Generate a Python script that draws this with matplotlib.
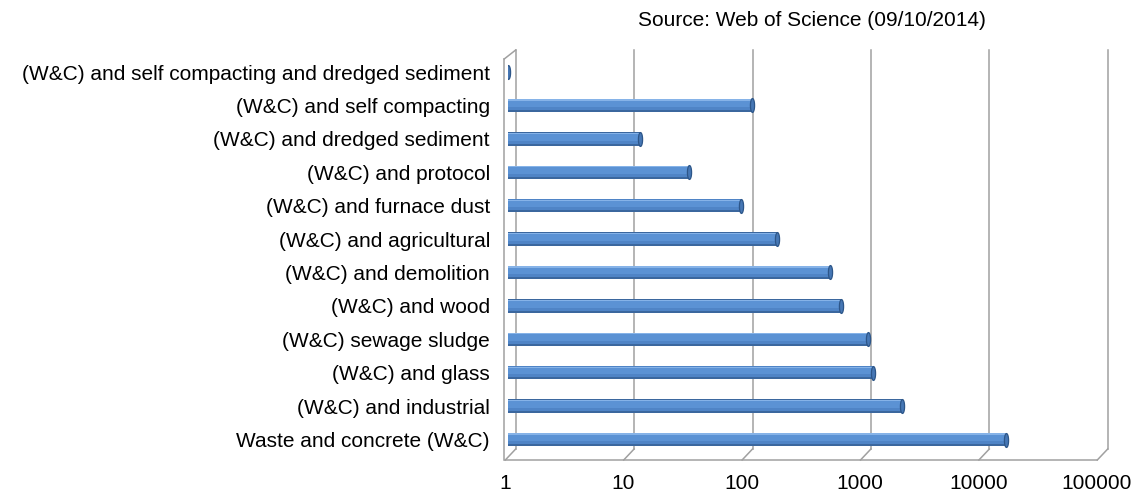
import numpy as np
import matplotlib
matplotlib.use("Agg")
import matplotlib.pyplot as plt
from matplotlib.lines import Line2D
from matplotlib.path import Path
from matplotlib.transforms import IdentityTransform, ScaledTranslation

plt.rcParams['font.family'] = ['Liberation Sans', 'DejaVu Sans']

# categories from bottom to top, article counts
categories = ["Waste and concrete (W&C)",
              "(W&C) and industrial",
              "(W&C) and glass",
              "(W&C) sewage sludge",
              "(W&C) and wood",
              "(W&C) and demolition",
              "(W&C) and agricultural",
              "(W&C) and furnace dust",
              "(W&C) and protocol",
              "(W&C) and dredged sediment",
              "(W&C) and self compacting",
              "(W&C) and self compacting and dredged sediment"]
counts = [16000, 2140, 1200, 1100, 645, 525, 186, 93, 34, 13, 116, 1]
decades = [1, 10, 100, 1000, 10000, 100000]
decade_labels = ["1", "10", "100", "1000", "10000", "100000"]

W, H = 1137, 492
fig = plt.figure(figsize=(W / 100, H / 100), dpi=100)
ax = fig.add_axes([508 / W, 1 - 449 / H, 592 / W, 399 / H])
ax.set_xscale('log')
ax.set_xlim(1, 1e5)
ax.set_ylim(-0.284, 11.66)
ax.patch.set_visible(False)
for s in ax.spines.values():
    s.set_visible(False)

# pseudo 3D frame (back wall, floor, side wall)
def disp(v, f, dx, dy):
    p = ax.get_xaxis_transform().transform((v, f))
    return p[0] + dx, p[1] - dy

def seg(a, b):
    ln = Line2D([a[0], b[0]], [a[1], b[1]], color='#a0a0a0', lw=1.1,
                transform=IdentityTransform(), zorder=0.5)
    ax.add_line(ln)
    ln.set_clip_on(False)

for v in decades:
    seg(disp(v, 0, 7.7, 0), disp(v, 1, 7.7, 0))
    seg(disp(v, 0, 7.7, 0), disp(v, 0, -2.7, 11))
seg(disp(1, 0, -3, 11), disp(1e5, 0, -3, 11))
seg(disp(1, 0, -3.8, 11), disp(1, 1, -3.8, 9))
seg(disp(1, 1, -3.8, 9), disp(1, 1, 7.7, 0))

ax.set_xlim(1, 1e5)
ax.set_ylim(-0.284, 11.66)

# cylinders
y = np.arange(len(categories))
vals = np.array(counts, dtype=float)
ax.barh(y, vals - 1, left=1, height=0.40, color='#3b679e', zorder=2)
ax.barh(y + 0.025, vals - 1, left=1, height=0.33, color='#4f84c6', zorder=2.1)
ax.barh(y + 0.06, vals - 1, left=1, height=0.22, color='#5b92d4', zorder=2.2)
ax.barh(y + 0.165, vals - 1, left=1, height=0.035, color='#86b3e8', zorder=2.3)

t = np.linspace(0, 2 * np.pi, 40)
cap = Path(np.column_stack([0.30 * np.cos(t), np.sin(t)]))
ax.scatter(vals, y, marker=cap, s=100, facecolor='#4677b5', edgecolor='#2d5689',
           linewidths=0.9, zorder=3)

ax.set_yticks(y)
ax.set_yticklabels(categories, fontsize=15)
ax.set_xticks(decades)
ax.set_xticklabels(decade_labels, fontsize=15)
ax.minorticks_off()
ax.tick_params(axis='both', length=0)
ax.tick_params(axis='y', pad=13)
ax.tick_params(axis='x', pad=18)
for lab in ax.get_xticklabels():
    lab.set_transform(lab.get_transform() + ScaledTranslation(-3 / 100, 0, fig.dpi_scale_trans))

fig.text(812 / W, 1 - 20 / H, "Source: Web of Science (09/10/2014)", fontsize=15,
         ha='center', va='center')

fig.savefig("out.png", dpi=100)
